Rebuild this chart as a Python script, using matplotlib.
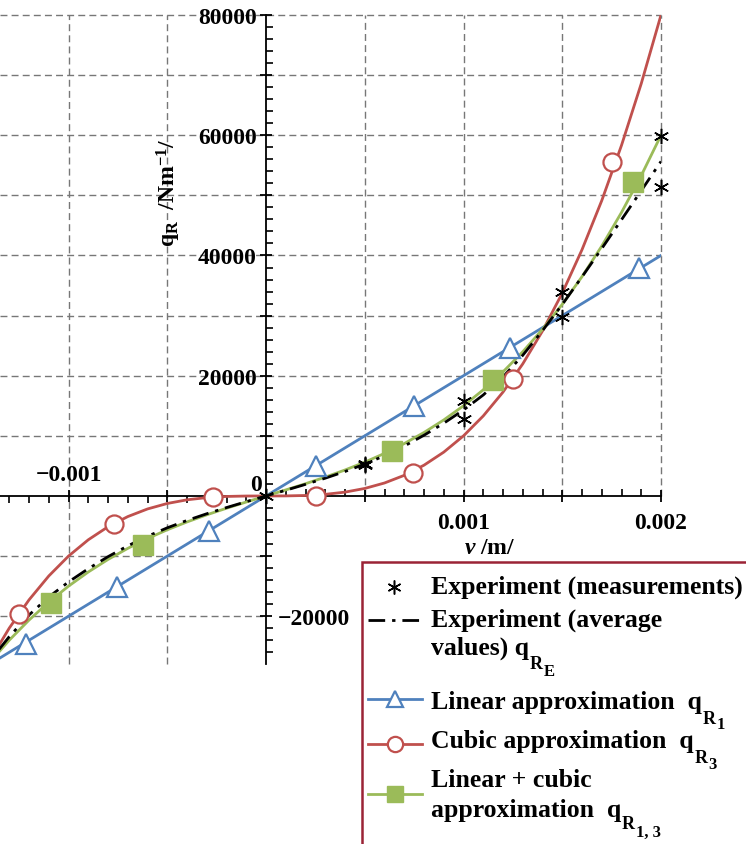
import matplotlib
matplotlib.use('Agg')
import matplotlib.pyplot as plt
import numpy as np
from matplotlib.patches import Rectangle
from matplotlib.ticker import FixedLocator, FixedFormatter

plt.rcParams['font.family'] = ['Liberation Serif', 'DejaVu Serif']
plt.rcParams['font.weight'] = 'bold'
plt.rcParams['mathtext.fontset'] = 'custom'
plt.rcParams['mathtext.rm'] = 'Liberation Serif:bold'
plt.rcParams['mathtext.bf'] = 'Liberation Serif:bold'
plt.rcParams['mathtext.it'] = 'Liberation Serif:italic:bold'
plt.rcParams['mathtext.default'] = 'bf'

# values, v in m, q in N/m
v_curve = np.arange(-14, 21) * 1e-4
q_cubic = [-27440, -21970, -17280, -13310, -10000, -7290, -5120, -3430, -2160,
           -1250, -640, -270, -80, -10, 0, 10, 80, 270, 640, 1250, 2160, 3430,
           5120, 7290, 10000, 13310, 17280, 21970, 27440, 33750, 40960, 49130,
           58320, 68590, 80000]
q_lin_cubic = [-27720, -23985, -20640, -17655, -15000, -12645, -10560, -8715,
               -7080, -5625, -4320, -3135, -2040, -1005, 0, 1005, 2040, 3135,
               4320, 5625, 7080, 8715, 10560, 12645, 15000, 17655, 20640, 23985,
               27720, 31875, 36480, 41565, 47160, 53295, 60000]
q_exp_avg = [-27500, -23400, -19800, -16800, -14300, -12100, -10100, -8300,
             -6700, -5300, -4070, -2960, -1930, -950, 0, 950, 1930, 2960, 4070,
             5300, 6700, 8300, 10100, 12100, 14300, 16800, 19800, 23400, 27500,
             31850, 36450, 41150, 45950, 50780, 55640]
v_lin = [-0.0014, 0.002]
q_lin = [-28000, 40000]

# measurements
v_meas = [0, 0.0005, 0.0005, 0.001, 0.001, 0.0015, 0.0015, 0.002, 0.002]
q_meas = [0, 5300, 5100, 15800, 12800, 33900, 29800, 59900, 51400]

# plot markers
v_lin_mk = [-0.001215, -0.000754, -0.000289, 0.000253, 0.000749, 0.001235, 0.001889]
q_lin_mk = [-24600, -15100, -5800, 5000, 15000, 24600, 38000]
v_cub_mk = [-0.00125, -0.00077, -0.000268, 0.000253, 0.000744, 0.00125, 0.00175]
q_cub_mk = [-19600, -4600, -200, 0, 3900, 19400, 55500]
v_lc_mk = [-0.00109, -0.000623, 0.000638, 0.00115, 0.00186]
q_lc_mk = [-17800, -8100, 7500, 19300, 52200]

blue = '#4f81bd'
red = '#c0504d'
green = '#9bbb59'
grid_col = '#777777'
fs = 17
lfs = 18.5
dashdot = (0, (6, 2.5, 1.2, 2.5))

fig = plt.figure(figsize=(7.46, 8.45), dpi=100)
ax = fig.add_axes([0, 1 - 665 / 845, 661 / 746, (665 - 16) / 845])
x0, x1 = -0.001347, 0.002
y0, y1 = -27950, 80000
ax.set_xlim(x0, x1)
ax.set_ylim(y0, y1)

for s in ['top', 'right']:
    ax.spines[s].set_visible(False)
ax.spines['left'].set_position(('data', 0))
ax.spines['bottom'].set_position(('data', 0))
ax.spines['left'].set_linewidth(1.3)
ax.spines['bottom'].set_linewidth(1.3)

# dashed grid, empty in the lower right quadrant
gkw = dict(color=grid_col, lw=1, linestyles=(0, (5, 3)), zorder=0, clip_on=False)
ax.hlines([10000, 20000, 30000, 40000, 50000, 60000, 70000, 80000], x0, x1, **gkw)
ax.hlines([-10000, -20000], x0, 0, **gkw)
ax.vlines([-0.001, -0.0005], y0, y1, **gkw)
ax.vlines([0.0005, 0.001, 0.0015, 0.002], 0, y1, **gkw)

# ticks
x_major = [-0.001, -0.0005, 0.0005, 0.001, 0.0015, 0.002]
ax.xaxis.set_major_locator(FixedLocator(x_major))
ax.xaxis.set_major_formatter(FixedFormatter(['', '', '', '0.001', '', '0.002']))
pos_minor = [i * 1e-4 for i in range(1, 21) if i % 5]
neg_minor = [-i * 1e-4 for i in range(1, 14) if i % 5]
ax.xaxis.set_minor_locator(FixedLocator(pos_minor))
ax.tick_params(axis='x', which='major', direction='inout', length=9, width=1.3,
               pad=7, labelsize=fs)
ax.tick_params(axis='x', which='minor', direction='in', length=5, width=1.2)

sec = ax.secondary_xaxis(0, transform=ax.transData)
sec.set_xticks([])
sec.xaxis.set_minor_locator(FixedLocator(neg_minor))
sec.tick_params(axis='x', which='minor', direction='out', length=5, width=1.2)
for s in sec.spines.values():
    s.set_visible(False)

y_major = [-20000, -10000, 10000, 20000, 30000, 40000, 50000, 60000, 70000, 80000]
ax.yaxis.set_major_locator(FixedLocator(y_major))
ax.yaxis.set_major_formatter(FixedFormatter(['', '', '', '20000', '', '40000', '',
                                             '60000', '', '80000']))
ax.yaxis.set_minor_locator(FixedLocator([k * 2000 for k in range(-13, 41) if k % 5]))
ax.tick_params(axis='y', which='major', direction='inout', length=9, width=1.3,
               pad=2, labelsize=fs)
ax.tick_params(axis='y', which='minor', direction='in', length=5, width=1.2)

ax.text(-0.001, 3500, '\u22120.001', ha='center', va='center', fontsize=fs)
ax.text(-0.00002, 1900, '0', ha='right', va='center', fontsize=fs)
ax.text(0.00006, -20300, '\u221220000', ha='left', va='center', fontsize=fs)
ax.text(0.001134, -8500, '$\\mathit{v}$ /m/', ha='center', va='center', fontsize=fs)
ax.text(-0.00049, 50500, '$q_{R}$  /Nm$^{-1}$/', rotation=90, ha='center',
        va='center', fontsize=fs)

# curves
ax.plot(v_lin, q_lin, color=blue, lw=2, zorder=3)
ax.plot(v_curve, q_cubic, color=red, lw=2, zorder=3)
ax.plot(v_curve, q_lin_cubic, color=green, lw=2, zorder=4)
ax.plot(v_curve, q_exp_avg, color='black', lw=2, ls=dashdot, zorder=5)

mk = dict(ls='none', mew=1.6, mfc='white', zorder=6, clip_on=False)
ax.plot(v_lin_mk, q_lin_mk, marker='^', ms=14, mec=blue, **mk)
ax.plot(v_cub_mk, q_cub_mk, marker='o', ms=13, mec=red, **mk)
ax.plot(v_lc_mk, q_lc_mk, ls='none', marker='s', ms=14, mfc=green, mec=green, zorder=6)
ax.plot(v_meas, q_meas, ls='none', marker=(6, 2, 0), ms=11, mew=1.1, color='black',
        zorder=7, clip_on=False)

# legend in pixel coordinates
lax = fig.add_axes([0, 0, 1, 1])
lax.set_xlim(0, 746)
lax.set_ylim(845, 0)
lax.axis('off')
lax.add_patch(Rectangle((362, 563), 420, 320, fc='white', ec='#9b2335', lw=1.8))

lax.plot([394], [588], ls='none', marker=(6, 2, 0), ms=10, mew=1.1, color='black')
lax.plot([368, 422], [621, 621], color='black', lw=2, ls=dashdot)
lax.plot([368, 422], [700, 700], color=blue, lw=2)
lax.plot([395], [700], marker='^', ms=12, mew=1.6, mfc='white', mec=blue)
lax.plot([368, 422], [745, 745], color=red, lw=2)
lax.plot([395], [745], marker='o', ms=11, mew=1.6, mfc='white', mec=red)
lax.plot([368, 422], [795, 795], color=green, lw=2)
lax.plot([395], [795], marker='s', ms=12, mfc=green, mec=green)


def sub(prev, base_y, text, size=13):
    # subscript placed right after the previous piece of text
    return lax.annotate(text, xy=(1, base_y), xycoords=(prev, 'data'),
                        xytext=(0.6, 0), textcoords='offset points',
                        fontsize=size, va='baseline', ha='left')


tx = 431
lax.text(tx, 594, 'Experiment (measurements)', fontsize=lfs, va='baseline')
lax.text(tx, 627, 'Experiment (average', fontsize=lfs, va='baseline')
t = lax.text(tx, 655, 'values) q', fontsize=lfs, va='baseline')
r = sub(t, 669, 'R')
sub(r, 676, 'E', 12)
t = lax.text(tx, 709, 'Linear approximation  q', fontsize=lfs, va='baseline')
r = sub(t, 724, 'R')
sub(r, 729, '1', 12)
t = lax.text(tx, 748, 'Cubic approximation  q', fontsize=lfs, va='baseline')
r = sub(t, 763, 'R')
sub(r, 769, '3', 12)
lax.text(tx, 787, 'Linear + cubic', fontsize=lfs, va='baseline')
t = lax.text(tx, 817, 'approximation  q', fontsize=lfs, va='baseline')
r = sub(t, 829, 'R')
sub(r, 837, '1, 3', 12)

fig.savefig('out.png', dpi=100)
